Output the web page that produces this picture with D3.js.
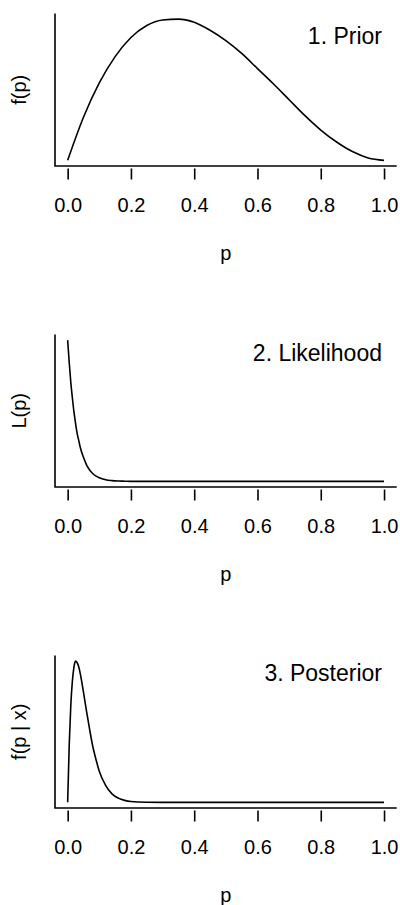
<!DOCTYPE html>
<meta charset="utf-8">
<script src="https://d3js.org/d3.v7.min.js"></script>
<style>
    body { margin: 0; background-color: white; }
    svg { display: block; }
    text { font-family: "Liberation Sans", Arial, sans-serif; fill: #000; }
</style>
<body>
<div id="my_dataviz"></div>
<script>

    // p values the curves were read at
    var pPrior = [0, 0.05, 0.1, 0.15, 0.2, 0.25, 0.3, 0.35, 0.4, 0.45, 0.5,
        0.55, 0.6, 0.65, 0.7, 0.75, 0.8, 0.85, 0.9, 0.95, 1];
    var priorVals = [0, 0.54, 0.97, 1.30, 1.54, 1.69, 1.76, 1.77, 1.73, 1.63, 1.50,
        1.34, 1.15, 0.96, 0.76, 0.56, 0.38, 0.23, 0.11, 0.03, 0];

    var pNearZero = [0, 0.005, 0.01, 0.015, 0.02, 0.025, 0.03, 0.035, 0.04, 0.05, 0.06,
        0.07, 0.08, 0.09, 0.1, 0.12, 0.14, 0.16, 0.18, 0.2, 0.25, 0.3, 0.4,
        0.5, 0.6, 0.7, 0.8, 0.9, 1];
    var likVals = [1, 0.84, 0.70, 0.59, 0.49, 0.41, 0.34, 0.29, 0.24, 0.17, 0.115,
        0.079, 0.054, 0.037, 0.025, 0.011, 0.005, 0.002, 0.001, 0, 0, 0, 0,
        0, 0, 0, 0, 0, 0];
    var postVals = [0, 0.41, 0.69, 0.86, 0.96, 1.0, 0.99, 0.96, 0.91, 0.78, 0.64,
        0.51, 0.39, 0.30, 0.22, 0.12, 0.06, 0.03, 0.014, 0.006, 0.001, 0, 0,
        0, 0, 0, 0, 0, 0];

    var xTicks = [0, 0.2, 0.4, 0.6, 0.8, 1.0];
    var titles = ["1. Prior", "2. Likelihood", "3. Posterior"];
    var yLabels = ["f(p)", "L(p)", "f(p | x)"];

    var panels = [
        { x: pPrior, y: priorVals },
        { x: pNearZero, y: likVals },
        { x: pNearZero, y: postVals }
    ];
    var titleDy = [30, 26, 25.5];

    var width = 400, height = 905;
    var left = 55, right = 396.7, panelH = 152.5, panelStep = 321, firstTop = 13.5;
    var padX = (right - left) * 0.04 / 1.08;
    var padY = panelH * 0.04 / 1.08;

    var svg = d3.select("#my_dataviz").append("svg")
        .attr("width", width)
        .attr("height", height);

    var xScale = d3.scaleLinear()
        .domain([0, 1])
        .range([left + padX, right - padX]);

    panels.forEach(function (d, i) {
        var top = firstTop + i * panelStep;
        var bottom = top + panelH;
        var g = svg.append("g");

        var yScale = d3.scaleLinear()
            .domain([d3.min(d.y), d3.max(d.y)])
            .range([bottom - padY, top + padY]);

        // L shaped box
        g.append("path")
            .attr("d", "M" + left + "," + top + "V" + bottom + "H" + right)
            .attr("fill", "none")
            .attr("stroke", "#000")
            .attr("stroke-width", 1.6);

        // x axis, ticks sit a little below the box
        var axis = g.append("g")
            .attr("transform", "translate(0," + (bottom + 2.5) + ")")
            .call(d3.axisBottom(xScale)
                .tickValues(xTicks)
                .tickFormat(d3.format(".1f"))
                .tickSize(11)
                .tickPadding(18));
        axis.select(".domain").remove();
        axis.selectAll("line").attr("stroke", "#000").attr("stroke-width", 1.6);
        axis.selectAll("text")
            .style("font-size", "20px")
            .attr("fill", "#000");

        // x label
        g.append("text")
            .attr("x", xScale(0.5))
            .attr("y", bottom + 94)
            .attr("text-anchor", "middle")
            .style("font-size", "20px")
            .text("p");

        // y label
        g.append("text")
            .attr("transform", "translate(26," + ((top + bottom) / 2) + ") rotate(-90)")
            .attr("text-anchor", "middle")
            .style("font-size", "20px")
            .text(yLabels[i]);

        // title
        g.append("text")
            .attr("x", 382)
            .attr("y", top + titleDy[i])
            .attr("text-anchor", "end")
            .style("font-size", "23px")
            .text(titles[i]);

        var line = d3.line()
            .x(function (v, j) { return xScale(d.x[j]); })
            .y(function (v) { return yScale(v); })
            .curve(d3.curveMonotoneX);

        g.append("path")
            .datum(d.y)
            .attr("d", line)
            .attr("fill", "none")
            .attr("stroke", "#000")
            .attr("stroke-width", 1.6);
    });

</script>
</body>
